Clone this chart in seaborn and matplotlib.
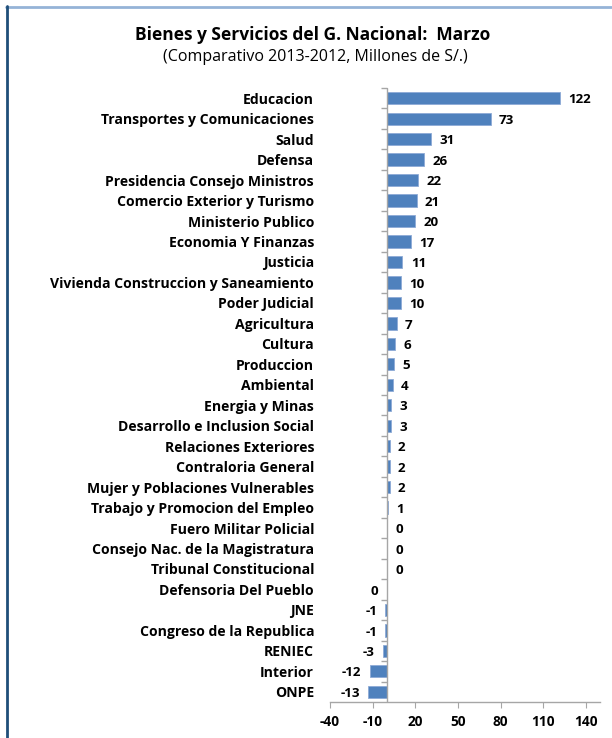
import matplotlib
matplotlib.use("Agg")
import matplotlib.pyplot as plt
from matplotlib.lines import Line2D
import seaborn as sns
import numpy as np
import pandas as pd

sectores = [
    "Educacion", "Transportes y Comunicaciones", "Salud", "Defensa",
    "Presidencia Consejo Ministros", "Comercio Exterior y Turismo",
    "Ministerio Publico", "Economia Y Finanzas", "Justicia",
    "Vivienda Construccion y Saneamiento", "Poder Judicial", "Agricultura",
    "Cultura", "Produccion", "Ambiental", "Energia y Minas",
    "Desarrollo e Inclusion Social", "Relaciones Exteriores",
    "Contraloria General", "Mujer y Poblaciones Vulnerables",
    "Trabajo y Promocion del Empleo", "Fuero Militar Policial",
    "Consejo Nac. de la Magistratura", "Tribunal Constitucional",
    "Defensoria Del Pueblo", "JNE", "Congreso de la Republica", "RENIEC",
    "Interior", "ONPE",
]
variacion = [122, 73, 31, 26, 22, 21, 20, 17, 11, 10, 10, 7, 6, 5, 4, 3, 3,
             2, 2, 2, 1, 0.2, 0.1, 0.1, -0.2, -1, -1, -3, -12, -13]
x_ticks = [-40, -10, 20, 50, 80, 110, 140]

titulo = "Bienes y Servicios del G. Nacional:  Marzo"
subtitulo = "(Comparativo 2013-2012, Millones de S/.)"

sns.set_style("white")
plt.rcParams["font.family"] = ["Open Sans", "DejaVu Sans"]
plt.rcParams["text.color"] = "black"

W, H = 612, 738
fig = plt.figure(figsize=(W / 100, H / 100), dpi=100)
ax = fig.add_axes([330 / W, 1 - 702 / H, 270 / W, 614 / H])

df = pd.DataFrame({"sector": sectores, "valor": variacion})
sns.barplot(data=df, x="valor", y="sector", orient="h", color="#4F81BD",
            saturation=1, width=0.6, edgecolor="#8DAAD6", linewidth=0.6,
            ax=ax)

ax.set_xlim(-40, 150)
ax.set_ylim(len(sectores) - 0.5, -0.5)
ax.set_xticks(x_ticks)
ax.set_xticklabels([str(t) for t in x_ticks], fontweight="bold", fontsize=9.8)
ax.set_xlabel("")
ax.set_ylabel("")
ax.tick_params(axis="x", direction="out", length=4, color="#A6A6A6", pad=5,
               bottom=True, labelcolor="black")
ax.tick_params(axis="y", length=0, pad=11.5, labelsize=10.1,
               labelcolor="black")
for lbl in ax.get_yticklabels():
    lbl.set_fontweight("bold")

for s in ["top", "right", "left"]:
    ax.spines[s].set_visible(False)
ax.spines["bottom"].set_color("#A6A6A6")
ax.spines["bottom"].set_linewidth(1)

# zero line with category tick marks
ax.axvline(0, color="#A6A6A6", lw=1, zorder=3)
ax.plot(np.zeros(len(sectores)), np.arange(-0.5, len(sectores) - 0.5),
        ls="none", marker=0, ms=4, mew=1, color="#A6A6A6", zorder=3,
        clip_on=False)

# value labels
for i, v in enumerate(variacion):
    txt = str(int(round(v)))
    if v >= 0:
        ax.annotate(txt, (v, i), xytext=(6, -1.2), textcoords="offset points",
                    ha="left", va="center", fontsize=9.6, fontweight="bold")
    else:
        ax.annotate(txt, (v, i), xytext=(-6, -1.2), textcoords="offset points",
                    ha="right", va="center", fontsize=9.6, fontweight="bold")

fig.text(313 / W, 1 - 35 / H, titulo, ha="center", va="center",
         fontsize=12.5, fontweight="bold")
fig.text(315 / W, 1 - 57 / H, subtitulo, ha="center", va="center",
         fontsize=11.5)

# chart frame
fig.add_artist(Line2D([6 / W, 1], [1 - 6.5 / H, 1 - 6.5 / H],
                      transform=fig.transFigure, color="#95B3D7", lw=2))
fig.add_artist(Line2D([6.5 / W, 6.5 / W], [0, 1 - 6 / H],
                      transform=fig.transFigure, color="#1F4E79", lw=2))

fig.savefig("out.png", dpi=100)
plt.close(fig)
